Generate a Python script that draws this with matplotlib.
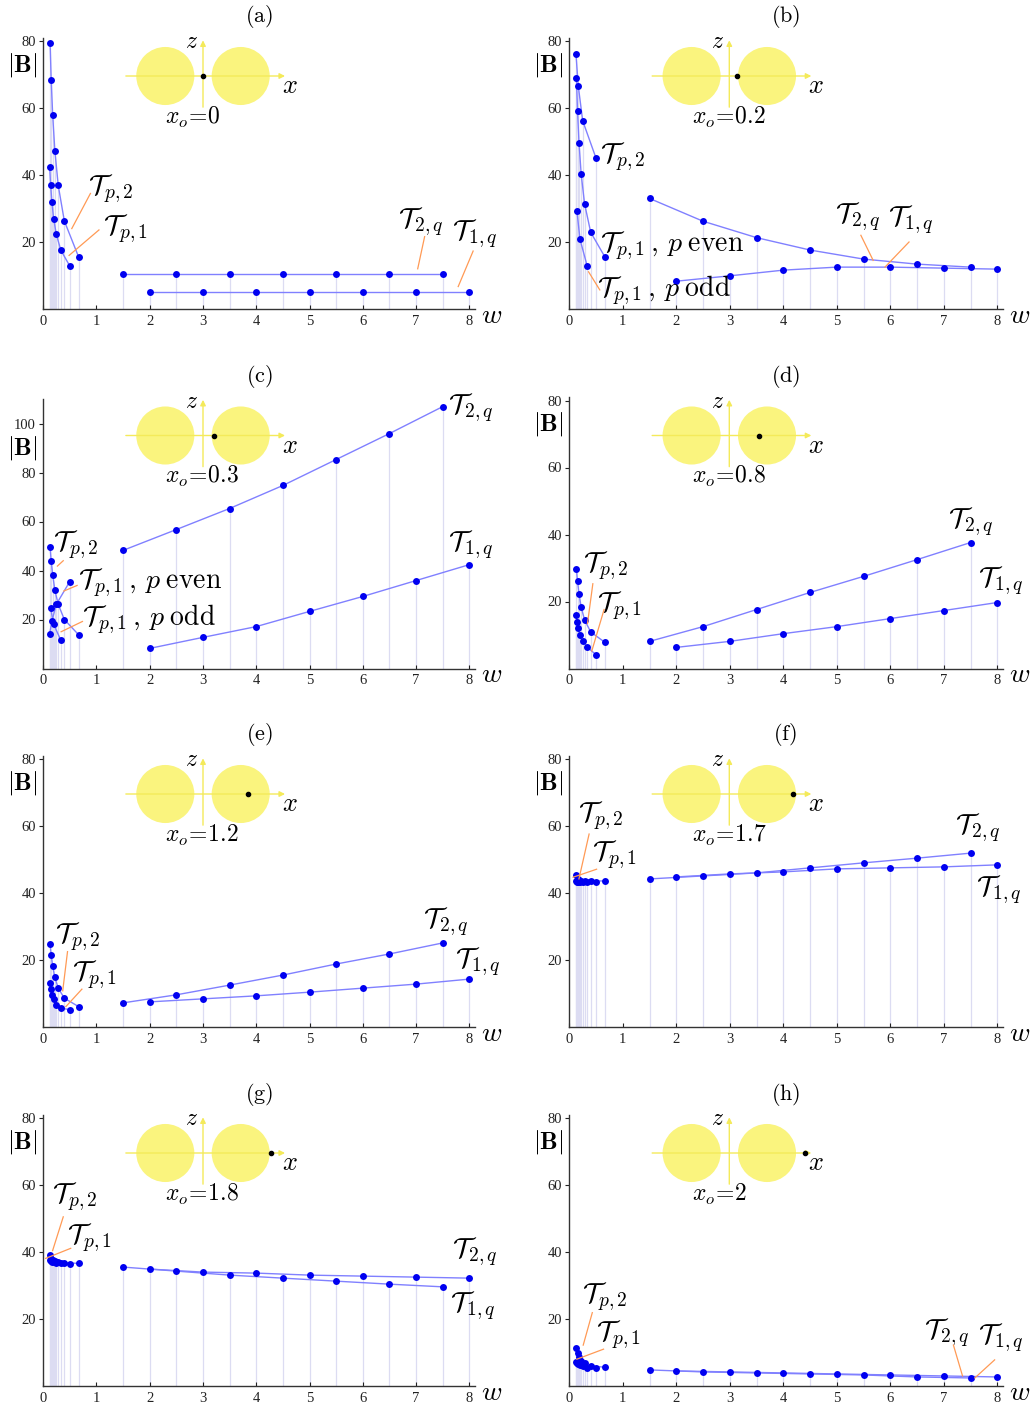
import matplotlib
matplotlib.use("Agg")
import matplotlib.pyplot as plt
from matplotlib.patches import Circle

plt.rcParams["font.family"] = ["Liberation Serif", "DejaVu Serif"]
plt.rcParams["mathtext.fontset"] = "cm"

FIG_W, FIG_H = 1036, 1407

# sample frequencies
W_P2 = [2/15, 2/13, 2/11, 2/9, 2/7, 2/5, 2/3]
W_P1 = [1/8, 1/7, 1/6, 1/5, 1/4, 1/3, 1/2]
W_EVEN = [1/8, 1/6, 1/4, 1/2]
W_ODD = [1/7, 1/5, 1/3]
W_HALF = [1.5, 2.5, 3.5, 4.5, 5.5, 6.5, 7.5]
W_INT = [2, 3, 4, 5, 6, 7, 8]

# |B| per configuration
a_tp2 = [79.4, 68.4, 57.8, 47.3, 36.9, 26.3, 15.6]
a_tp1 = [42.3, 37.1, 31.9, 26.9, 22.3, 17.6, 12.9]
a_half = [10.4, 10.4, 10.4, 10.4, 10.4, 10.4, 10.4]
a_int = [5.1, 5.1, 5.1, 5.1, 5.1, 5.1, 5.1]

b_even = [76.1, 66.7, 56.2, 45.0]
b_p2 = [69.0, 59.1, 49.5, 40.2, 31.4, 22.9, 15.5]
b_odd = [29.2, 20.8, 12.9]
b_half = [33.0, 26.2, 21.3, 17.6, 14.9, 13.4, 12.5]
b_int = [8.3, 9.9, 11.6, 12.5, 12.5, 12.2, 11.9]

c_p2 = [49.5, 43.9, 38.3, 32.0, 26.2, 20.0, 13.8]
c_even = [14.2, 19.3, 26.2, 35.4]
c_odd = [24.7, 18.0, 11.6]
c_half = [48.2, 56.7, 65.3, 74.7, 85.3, 95.9, 106.9]
c_int = [8.2, 12.7, 17.1, 23.3, 29.4, 35.9, 42.4]

d_tp2 = [29.8, 26.0, 22.2, 18.3, 14.5, 10.9, 7.8]
d_tp1 = [15.9, 13.8, 12.0, 9.9, 8.2, 6.4, 4.1]
d_half = [8.1, 12.5, 17.6, 22.7, 27.5, 32.5, 37.6]
d_int = [6.3, 8.1, 10.4, 12.5, 14.9, 17.3, 19.7]

e_tp2 = [24.7, 21.5, 18.2, 14.8, 11.6, 8.6, 6.1]
e_tp1 = [13.0, 11.3, 9.6, 8.3, 6.7, 5.6, 5.2]
e_half = [7.2, 9.6, 12.5, 15.5, 18.8, 21.8, 25.1]
e_int = [7.5, 8.4, 9.3, 10.4, 11.6, 12.8, 14.3]

f_tp2 = [45.4, 44.3, 43.9, 43.7, 43.6, 43.6, 43.6]
f_tp1 = [43.7, 43.4, 43.3, 43.2, 43.2, 43.2, 43.3]
f_half = [44.2, 45.1, 46.0, 47.5, 49.0, 50.4, 51.9]
f_int = [44.8, 45.7, 46.3, 47.2, 47.5, 47.8, 48.4]

g_tp2 = [39.1, 38.0, 37.5, 37.2, 37.0, 36.8, 36.6]
g_tp1 = [37.6, 37.3, 37.1, 36.9, 36.8, 36.7, 36.5]
g_half = [35.5, 34.3, 33.1, 32.2, 31.3, 30.4, 29.6]
g_int = [34.9, 34.0, 33.7, 33.1, 32.8, 32.5, 32.2]

h_tp2 = [11.2, 9.8, 8.6, 7.6, 6.8, 6.0, 5.6]
h_tp1 = [7.3, 7.0, 6.7, 6.4, 6.0, 5.5, 5.3]
h_half = [4.8, 4.2, 3.9, 3.6, 3.3, 2.7, 2.4]
h_int = [4.5, 4.2, 3.9, 3.6, 3.3, 3.0, 2.7]

x_origins = [0, 0.2, 0.3, 0.8, 1.2, 1.7, 1.8, 2]
x_origin_labels = ["0", "0.2", "0.3", "0.8", "1.2", "1.7", "1.8", "2"]
panel_tags = ["a", "b", "c", "d", "e", "f", "g", "h"]

TP2 = r"$\mathcal{T}_{p,2}$"
TP1 = r"$\mathcal{T}_{p,1}$"
TP1_EVEN = r"$\mathcal{T}_{p,1}\,,\,p\;\mathrm{even}$"
TP1_ODD = r"$\mathcal{T}_{p,1}\,,\,p\;\mathrm{odd}$"
T2Q = r"$\mathcal{T}_{2,q}$"
T1Q = r"$\mathcal{T}_{1,q}$"

panels = [
    dict(series=[(W_P2, a_tp2), (W_P1, a_tp1), (W_HALF, a_half), (W_INT, a_int)],
         labels=[(TP2, 0.84, 36), (TP1, 1.13, 24), (T2Q, 6.66, 26), (T1Q, 7.67, 22.4)],
         pointers=[(0.89, 34.5, 0.54, 24.0), (1.05, 23.6, 0.49, 16.0),
                   (7.16, 21.6, 7.03, 12.0), (8.07, 17.3, 7.79, 6.7)]),
    dict(series=[(W_EVEN, b_even), (W_P2, b_p2), (W_ODD, b_odd), (W_HALF, b_half), (W_INT, b_int)],
         labels=[(TP2, 0.57, 45.4), (TP1_EVEN, 0.57, 18.8), (TP1_ODD, 0.52, 5.7),
                 (T2Q, 4.96, 27.5), (T1Q, 5.95, 26.6)],
         pointers=[(0.36, 11.1, 0.57, 5.7), (5.45, 22, 5.68, 14.5), (6.35, 20, 5.9, 12.5)]),
    dict(series=[(W_P2, c_p2), (W_EVEN, c_even), (W_ODD, c_odd), (W_HALF, c_half), (W_INT, c_int)],
         labels=[(TP2, 0.19, 50.6), (TP1_EVEN, 0.66, 35), (TP1_ODD, 0.73, 20),
                 (T2Q, 7.6, 106.5), (T1Q, 7.6, 50.6)],
         pointers=[(0.38, 44, 0.27, 41.8), (0.64, 33.9, 0.39, 31.6), (0.74, 19.2, 0.34, 15)]),
    dict(series=[(W_P2, d_tp2), (W_P1, d_tp1), (W_HALF, d_half), (W_INT, d_int)],
         labels=[(TP2, 0.26, 30.7), (TP1, 0.52, 18.8), (T2Q, 7.08, 43.9), (T1Q, 7.64, 26.3)],
         pointers=[(0.44, 25.3, 0.34, 13.4), (0.65, 17.6, 0.42, 5.2)]),
    dict(series=[(W_P2, e_tp2), (W_P1, e_tp1), (W_HALF, e_half), (W_INT, e_int)],
         labels=[(TP2, 0.22, 26.9), (TP1, 0.54, 15.5), (T2Q, 7.13, 31.3), (T1Q, 7.73, 19.4)],
         pointers=[(0.46, 22.5, 0.37, 10.8), (0.73, 11.3, 0.43, 6.1)]),
    dict(series=[(W_P2, f_tp2), (W_P1, f_tp1), (W_HALF, f_half), (W_INT, f_int)],
         labels=[(TP2, 0.17, 63), (TP1, 0.43, 51.3), (T2Q, 7.21, 59.4), (T1Q, 7.6, 40.9)],
         pointers=[(0.37, 57.6, 0.18, 44.2), (0.51, 47.1, 0.07, 44.7)]),
    dict(series=[(W_P2, g_tp2), (W_P1, g_tp1), (W_HALF, g_half), (W_INT, g_int)],
         labels=[(TP2, 0.17, 56.4), (TP1, 0.45, 44.2), (T2Q, 7.67, 40), (T1Q, 7.64, 23.9)],
         pointers=[(0.38, 50.5, 0.18, 40.4), (0.52, 41.1, 0.05, 38.1)]),
    dict(series=[(W_P2, h_tp2), (W_P1, h_tp1), (W_HALF, h_half), (W_INT, h_int)],
         labels=[(TP2, 0.24, 26.6), (TP1, 0.5, 15.2), (T2Q, 6.63, 15.8), (T1Q, 7.64, 14.3)],
         pointers=[(0.43, 21.9, 0.26, 12.2), (0.64, 11, 0.14, 8),
                   (7.18, 12.2, 7.35, 3), (7.95, 7.8, 7.58, 2.4)]),
]

# layout in pixels
col_left = [43, 569.3]
col_scale = [53.3, 53.5]
row_bottom = [309, 668.5, 1027, 1386]
XMAX = 8.1

DOT = "#0000f0"
LINE = "#8080ff"
STEM = "#dcdcf2"
LEADER = "#ff9a55"
YELLOW = "#faf47e"
AXIS_YEL = "#f4ea5a"
INSET_SCALE = 37.7


def rect(left, bottom, width, height):
    return [left / FIG_W, (FIG_H - bottom) / FIG_H, width / FIG_W, height / FIG_H]


def draw_inset(cx, cy, x0, xlabel):
    x_lo, x_hi, y_lo, y_hi = -2.4, 2.6, -1.5, 1.3
    ax = fig.add_axes(rect(cx + x_lo * INSET_SCALE, cy - y_lo * INSET_SCALE,
                           (x_hi - x_lo) * INSET_SCALE, (y_hi - y_lo) * INSET_SCALE))
    ax.set_xlim(x_lo, x_hi)
    ax.set_ylim(y_lo, y_hi)
    ax.axis("off")
    ax.patch.set_alpha(0)
    for c in (-1, 1):
        ax.add_patch(Circle((c, 0), 0.77, color=YELLOW, lw=0, zorder=1))
    ax.annotate("", xy=(2.25, 0), xytext=(-2.12, 0),
                arrowprops=dict(arrowstyle="-|>", color=AXIS_YEL, lw=1, mutation_scale=8), zorder=2)
    ax.annotate("", xy=(0, 1.02), xytext=(0, -0.9),
                arrowprops=dict(arrowstyle="-|>", color=AXIS_YEL, lw=1, mutation_scale=8), zorder=2)
    ax.plot([x0], [0], "o", color="black", ms=3, zorder=3)
    ax.text(-0.3, 0.88, r"$z$", fontsize=17, ha="center", va="center")
    ax.text(2.3, -0.3, r"$x$", fontsize=19, ha="center", va="center")
    ax.text(-1.0, -1.1, r"$x_o\!=\!" + xlabel + "$", fontsize=17, ha="left", va="center")


fig = plt.figure(figsize=(FIG_W / 100, FIG_H / 100), dpi=100)

for i, panel in enumerate(panels):
    row, col = divmod(i, 2)
    ymax = 110 if i == 2 else 81
    yscale = 2.45 if i == 2 else 3.35
    left, bottom = col_left[col], row_bottom[row]
    width = XMAX * col_scale[col]
    ax = fig.add_axes(rect(left, bottom, width, ymax * yscale))
    ax.set_xlim(0, XMAX)
    ax.set_ylim(0, ymax)
    ax.patch.set_alpha(0)

    for ws, vs in panel["series"]:
        ax.vlines(ws, 0, vs, color=STEM, lw=0.9, zorder=1)
        ax.plot(ws, vs, "-", color=LINE, lw=1, zorder=2)
        ax.plot(ws, vs, "o", color=DOT, ms=5, mec="none", zorder=3)

    for text, tx, ty in panel["labels"]:
        ax.text(tx, ty, text, fontsize=20, ha="left", va="center", zorder=4)
    for x1, y1, x2, y2 in panel["pointers"]:
        ax.plot([x1, x2], [y1, y2], color=LEADER, lw=0.9, zorder=4)

    for side in ("top", "right"):
        ax.spines[side].set_visible(False)
    for side in ("left", "bottom"):
        ax.spines[side].set_color("#333333")
        ax.spines[side].set_linewidth(1)
    ax.set_xticks(range(0, 9))
    ax.set_yticks([20, 40, 60, 80, 100] if i == 2 else [20, 40, 60, 80])
    ax.tick_params(axis="x", direction="in", length=3, labelsize=10.5, pad=4, colors="#222222")
    ax.tick_params(axis="y", direction="out", length=3, labelsize=10.5, pad=2, colors="#222222")

    ax.text(-21 / width, 0.9 if i != 2 else 0.82, r"$|\mathbf{B}|$",
            transform=ax.transAxes, fontsize=18, ha="center", va="center")
    ax.text(1 + 6 / width, -0.026, r"$w$", transform=ax.transAxes, fontsize=20, ha="left", va="center")
    fig.text((left + 216) / FIG_W, (FIG_H - (17 + 359 * row)) / FIG_H,
             r"$\mathrm{(" + panel_tags[i] + ")}$", fontsize=16, ha="center", va="center")

    draw_inset(left + 160, bottom - 233, x_origins[i], x_origin_labels[i])

fig.savefig("out.png", dpi=100)
